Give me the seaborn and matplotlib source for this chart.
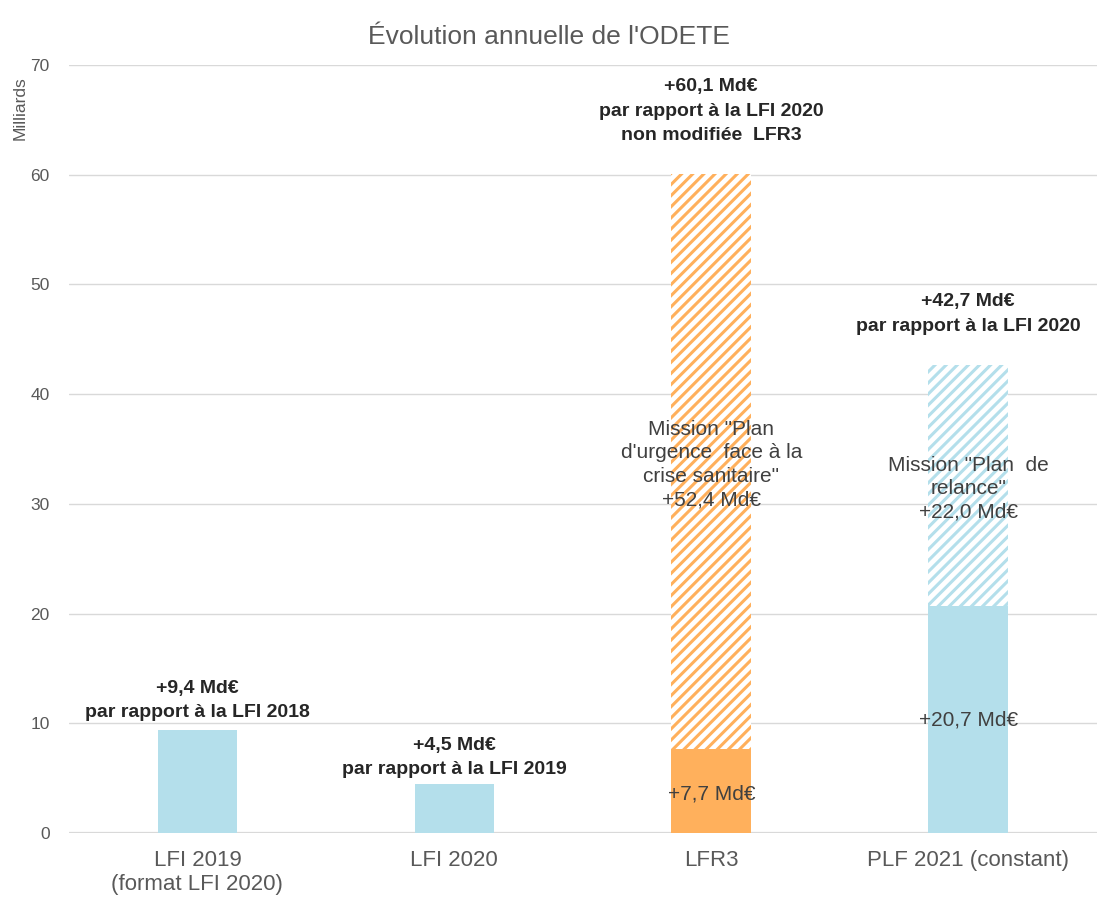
import matplotlib
matplotlib.use("Agg")
import matplotlib.pyplot as plt
import seaborn as sns

# data (Md€)
categories = ["LFI 2019\n(format LFI 2020)", "LFI 2020", "LFR3", "PLF 2021 (constant)"]
base_values = [9.4, 4.5, 7.7, 20.7]
extra_values = [0.0, 0.0, 52.4, 22.0]
totals = [b + e for b, e in zip(base_values, extra_values)]

top_labels = [
    "+9,4 Md€\npar rapport à la LFI 2018",
    "+4,5 Md€\npar rapport à la LFI 2019",
    "+60,1 Md€\npar rapport à la LFI 2020\nnon modifiée  LFR3",
    "+42,7 Md€\npar rapport à la LFI 2020",
]
base_labels = ["", "", "+7,7 Md€", "+20,7 Md€"]
extra_labels = ["", "", "Mission \"Plan\nd'urgence  face à la\ncrise sanitaire\"\n+52,4 Md€",
                "Mission \"Plan  de\nrelance\"\n+22,0 Md€"]

BLUE = "#B4DFEB"
ORANGE = "#FFB05C"
bar_colors = [BLUE, BLUE, ORANGE, BLUE]

sns.set_style("white")
plt.rcParams["font.family"] = ["Liberation Sans", "DejaVu Sans"]
plt.rcParams["hatch.linewidth"] = 2.2

fig = plt.figure(figsize=(10.98, 9.02), dpi=100)
ax = fig.add_axes([0.0628, 0.0765, 0.936, 0.8514])

# hatched totals first, then solid base segments drawn over them
sns.barplot(x=categories, y=totals, hue=categories, palette=bar_colors,
            width=0.31, legend=False, ax=ax, order=categories)
for p, c in zip(ax.patches[:4], bar_colors):
    p.set_facecolor("white")
    p.set_edgecolor(c)
    p.set_hatch("///")
    p.set_linewidth(0)

n_before = len(ax.patches)
sns.barplot(x=categories, y=base_values, hue=categories, palette=bar_colors,
            width=0.31, legend=False, ax=ax, order=categories, saturation=1)
for p, c in zip(ax.patches[n_before:], bar_colors):
    p.set_facecolor(c)
    p.set_linewidth(0)

ax.set_ylim(0, 70)
ax.set_xlim(-0.5, 3.5)
ax.set_yticks(range(0, 71, 10))
ax.yaxis.grid(True, color="#D9D9D9", linewidth=1)
ax.axhline(0, color="#D9D9D9", linewidth=1.6, zorder=0.5)
ax.set_axisbelow(True)
sns.despine(ax=ax, left=True, bottom=True)
ax.tick_params(axis="y", length=0, pad=14, labelsize=12.5, labelcolor="#595959")
ax.tick_params(axis="x", length=0, pad=12, labelsize=16, labelcolor="#595959")
ax.set_xlabel("")
ax.set_ylabel("")

fig.text(0.018, 0.88, "Milliards", rotation=90, fontsize=12.5, color="#595959",
         ha="center", va="center")
fig.suptitle("Évolution annuelle de l'ODETE", y=0.972, fontsize=19, color="#595959")

# annotation heights (data units)
top_y = [12.1, 6.9, 65.8, 47.3]
base_y = [0, 0, 3.6, 10.3]
extra_y = [0, 0, 33.6, 31.4]

for i in range(len(categories)):
    ax.text(i, top_y[i], top_labels[i], ha="center", va="center", fontsize=14,
            fontweight="bold", color="#262626", linespacing=1.55)
    if base_labels[i]:
        ax.text(i, base_y[i], base_labels[i], ha="center", va="center",
                fontsize=15, color="#404040")
    if extra_labels[i]:
        ax.text(i, extra_y[i], extra_labels[i], ha="center", va="center",
                fontsize=15, color="#404040", linespacing=1.3)

fig.savefig("out.png", dpi=100)
